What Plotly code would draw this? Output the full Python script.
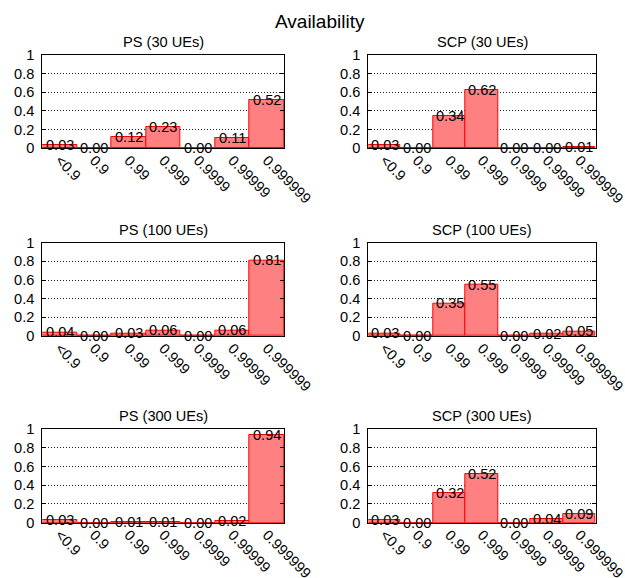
import plotly.graph_objects as go
from plotly.subplots import make_subplots

W, H = 625, 578

categories = ["<0.9", "0.9", "0.99", "0.999", "0.9999", "0.99999", "0.999999"]

ps_30 = [0.03, 0.00, 0.12, 0.23, 0.00, 0.11, 0.52]
scp_30 = [0.03, 0.00, 0.34, 0.62, 0.00, 0.00, 0.01]
ps_100 = [0.04, 0.00, 0.03, 0.06, 0.00, 0.06, 0.81]
scp_100 = [0.03, 0.00, 0.35, 0.55, 0.00, 0.02, 0.05]
ps_300 = [0.03, 0.00, 0.01, 0.01, 0.00, 0.02, 0.94]
scp_300 = [0.03, 0.00, 0.32, 0.52, 0.00, 0.04, 0.09]

panels = [
    ("PS (30 UEs)", ps_30),
    ("SCP (30 UEs)", scp_30),
    ("PS (100 UEs)", ps_100),
    ("SCP (100 UEs)", scp_100),
    ("PS (300 UEs)", ps_300),
    ("SCP (300 UEs)", scp_300),
]

# pixel boxes of the plotting areas (left, right) and (top, bottom)
col_px = [(42.3, 284.3), (368.3, 595.7)]
row_px = [(55, 148), (242.7, 336), (429, 522.7)]

FONT = "Liberation Sans, Arial, sans-serif"
FS = 14.6
BAR_FILL = "#ff8080"
BAR_EDGE = "#ff0000"

fig = make_subplots(rows=3, cols=2)

annotations = []
for i, (title, vals) in enumerate(panels):
    r, c = divmod(i, 2)
    fig.add_trace(
        go.Bar(
            x=categories, y=vals,
            marker=dict(color=BAR_FILL, line=dict(color=BAR_EDGE, width=1)),
            showlegend=False, hoverinfo="skip",
        ),
        row=r + 1, col=c + 1,
    )
    xa = "x" if i == 0 else f"x{i + 1}"
    ya = "y" if i == 0 else f"y{i + 1}"
    # value labels centred on each bar top (category index as position)
    for j, v in enumerate(vals):
        annotations.append(dict(
            x=j, y=v, xref=xa, yref=ya, text=f"{v:.2f}", showarrow=False,
            xanchor="center", yanchor="middle",
            font=dict(family=FONT, size=FS, color="black"),
        ))
    x0, x1 = col_px[c]
    y0, y1 = row_px[r]
    annotations.append(dict(
        x=(x0 + x1) / 2 / W, y=1 - (y0 - 13) / H, xref="paper", yref="paper",
        text=title, showarrow=False, xanchor="center", yanchor="middle",
        font=dict(family=FONT, size=FS, color="black"),
    ))

annotations.append(dict(
    x=320 / W, y=1 - 21 / H, xref="paper", yref="paper", text="Availability",
    showarrow=False, xanchor="center", yanchor="middle",
    font=dict(family=FONT, size=19, color="black"),
))

for i in range(6):
    r, c = divmod(i, 2)
    x0, x1 = col_px[c]
    y0, y1 = row_px[r]
    fig.update_xaxes(
        domain=[x0 / W, x1 / W], range=[-0.5, 6.5], type="category",
        tickangle=45, showgrid=False, showline=True, mirror=True,
        linecolor="black", linewidth=1, ticks="", automargin=False,
        ticklabelstandoff=-3,
        tickfont=dict(family=FONT, size=FS, color="black"),
        row=r + 1, col=c + 1,
    )
    fig.update_yaxes(
        domain=[1 - y1 / H, 1 - y0 / H], range=[0, 1], tickvals=[0, 0.2, 0.4, 0.6, 0.8, 1],
        ticktext=["0", "0.2", "0.4", "0.6", "0.8", "1"],
        showgrid=True, gridcolor="#222222", griddash="1px,2px", gridwidth=1,
        zeroline=False, showline=True, mirror="ticks", linecolor="black", linewidth=1,
        ticks="inside", ticklen=4, tickcolor="black", ticklabelstandoff=4,
        automargin=False,
        tickfont=dict(family=FONT, size=FS, color="black"),
        row=r + 1, col=c + 1,
    )

fig.update_layout(
    width=W, height=H, margin=dict(l=0, r=0, t=0, b=0, autoexpand=False),
    paper_bgcolor="white", plot_bgcolor="white",
    bargap=0, annotations=annotations,
)

fig.write_html("out.html")
